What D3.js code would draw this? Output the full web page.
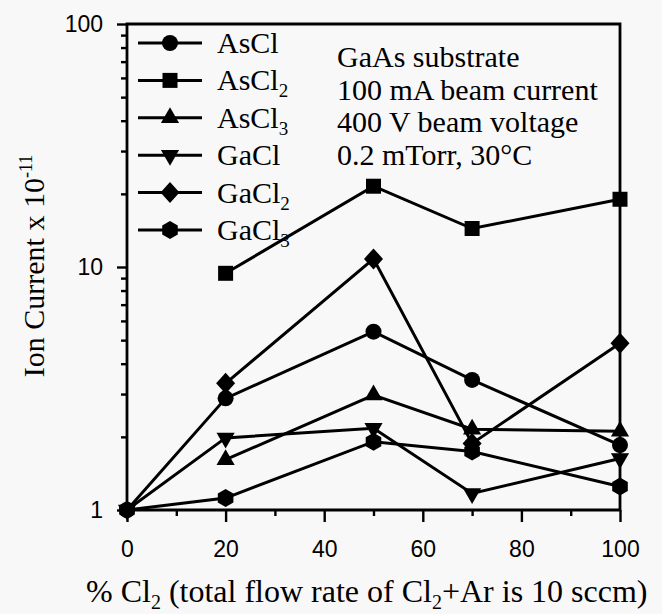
<!DOCTYPE html>
<html>
<head>
<meta charset="utf-8">
<script src="https://cdn.jsdelivr.net/npm/d3@7"></script>
<style>
  body { margin: 0; background: #f8f8f8; }
  svg { display: block; background: #f8f8f8; }
  .serif { font-family: "Liberation Serif", "Times New Roman", serif; }
  .sans { font-family: "Liberation Sans", Arial, sans-serif; }
</style>
</head>
<body>
<svg width="662" height="614"></svg>
<script>

// flow of Cl2 (%)
var flow = [0, 20, 50, 70, 100];

// ion currents (x 1e-11), null = not measured
var AsCl   = [1, 2.88, 5.42, 3.43, 1.85];
var AsCl2  = [null, 9.42, 21.5, 14.4, 19.0];
var AsCl3  = [null, 1.61, 2.97, 2.15, 2.11];
var GaCl   = [1, 1.98, 2.17, 1.17, 1.63];
var GaCl2  = [null, 3.32, 10.8, 1.88, 4.85];
var GaCl3  = [1, 1.12, 1.91, 1.74, 1.25];

var xMajor = [0, 20, 40, 60, 80, 100];
var xMinor = [10, 30, 50, 70, 90];
var yMajor = [1, 10, 100];
var yMinor = [2, 3, 4, 5, 6, 7, 8, 9, 20, 30, 40, 50, 60, 70, 80, 90];

var notes = ['GaAs substrate', '100 mA beam current', '400 V beam voltage', '0.2 mTorr, 30\u00b0C'];

var series = [
    { base: 'AsCl', sub: '',  values: AsCl,  shape: 'circle' },
    { base: 'AsCl', sub: '2', values: AsCl2, shape: 'square' },
    { base: 'AsCl', sub: '3', values: AsCl3, shape: 'triangle' },
    { base: 'GaCl', sub: '',  values: GaCl,  shape: 'triangleDown' },
    { base: 'GaCl', sub: '2', values: GaCl2, shape: 'diamond' },
    { base: 'GaCl', sub: '3', values: GaCl3, shape: 'hexagon' }
];

var svg = d3.select('svg'),
    plotLeft = 127, plotRight = 620, plotTop = 24, plotBottom = 510;

var x = d3.scaleLinear().domain([0, 100]).range([plotLeft, plotRight]);
var y = d3.scaleLog().domain([1, 100]).range([plotBottom, plotTop]);

function markerPath(shape) {
    var p = d3.path();
    if (shape === 'circle') {
        p.arc(0, 0, 8, 0, 2 * Math.PI);
    } else if (shape === 'square') {
        p.rect(-7.5, -7.5, 15, 15);
    } else if (shape === 'triangle' || shape === 'triangleDown') {
        var r = 10.5, s = shape === 'triangle' ? 1 : -1;
        p.moveTo(0, -r * s);
        p.lineTo(r * 0.866, r / 2 * s);
        p.lineTo(-r * 0.866, r / 2 * s);
        p.closePath();
    } else if (shape === 'diamond') {
        p.moveTo(0, -10.5); p.lineTo(9.5, 0); p.lineTo(0, 10.5); p.lineTo(-9.5, 0); p.closePath();
    } else if (shape === 'hexagon') {
        for (var k = 0; k < 6; k++) {
            var a = Math.PI / 6 + k * Math.PI / 3;
            if (k === 0) p.moveTo(9 * Math.cos(a), 9 * Math.sin(a));
            else p.lineTo(9 * Math.cos(a), 9 * Math.sin(a));
        }
        p.closePath();
    }
    return p.toString();
}

// axes: minor and major ticks in their own groups
var xAt = 'translate(0,' + plotBottom + ')',
    yAt = 'translate(' + plotLeft + ',0)';

svg.append('g').attr('transform', xAt)
    .call(d3.axisBottom(x).tickValues(xMinor).tickSize(6).tickFormat(''));
svg.append('g').attr('transform', xAt)
    .call(d3.axisBottom(x).tickValues(xMajor).tickSize(12).tickPadding(19).tickFormat(d3.format('d')));
svg.append('g').attr('transform', yAt)
    .call(d3.axisLeft(y).tickValues(yMinor).tickSize(6).tickFormat(''));
svg.append('g').attr('transform', yAt)
    .call(d3.axisLeft(y).tickValues(yMajor).tickSize(10).tickPadding(14).tickFormat(d3.format('d')));

svg.selectAll('.domain').remove();
svg.selectAll('.tick line').attr('stroke', '#000').attr('stroke-width', 2.4);
svg.selectAll('.tick text').attr('class', 'sans').attr('font-size', 23).attr('fill', '#000');

// frame
svg.append('path')
    .attr('d', 'M' + plotLeft + ',' + plotBottom + 'V' + plotTop + 'H' + plotRight + 'V' + plotBottom + 'H' + plotLeft + 'Z')
    .attr('fill', 'none')
    .attr('stroke', '#000')
    .attr('stroke-width', 2.8);

// data lines and markers
var line = d3.line()
    .defined(function (d) { return d != null; })
    .x(function (d, i) { return x(flow[i]); })
    .y(function (d) { return y(d); });

series.forEach(function (s) {
    svg.append('path')
        .attr('d', line(s.values))
        .attr('fill', 'none')
        .attr('stroke', '#000')
        .attr('stroke-width', 3);
    svg.selectAll(null)
        .data(s.values.map(function (v, i) { return { v: v, f: flow[i] }; }).filter(function (d) { return d.v != null; }))
        .enter().append('path')
        .attr('transform', function (d) { return 'translate(' + x(d.f) + ',' + y(d.v) + ')'; })
        .attr('d', markerPath(s.shape))
        .attr('fill', '#000');
});

// legend
var legend = svg.append('g');
series.forEach(function (s, i) {
    var ly = 43 + i * 37.4;
    legend.append('line')
        .attr('x1', 138).attr('x2', 202)
        .attr('y1', ly).attr('y2', ly)
        .attr('stroke', '#000').attr('stroke-width', 3);
    legend.append('path')
        .attr('transform', 'translate(170,' + ly + ')')
        .attr('d', markerPath(s.shape))
        .attr('fill', '#000');
    var t = legend.append('text')
        .attr('class', 'serif')
        .attr('x', 217).attr('y', ly + 10)
        .attr('font-size', 30);
    t.append('tspan').text(s.base);
    if (s.sub) t.append('tspan').attr('font-size', 19).attr('dy', 7).text(s.sub);
});

// conditions
svg.append('g').selectAll('text')
    .data(notes)
    .enter().append('text')
    .attr('class', 'serif')
    .attr('x', 337)
    .attr('y', function (d, i) { return 67 + i * 32.7; })
    .attr('font-size', 30)
    .text(function (d) { return d; });

// axis titles
var xt = svg.append('text')
    .attr('class', 'serif')
    .attr('x', 86).attr('y', 602)
    .attr('font-size', 32);
xt.append('tspan').text('% Cl');
xt.append('tspan').attr('font-size', 20).attr('dy', 7).text('2');
xt.append('tspan').attr('dy', -7).text(' (total flow rate of Cl');
xt.append('tspan').attr('font-size', 20).attr('dy', 7).text('2');
xt.append('tspan').attr('dy', -7).text('+Ar is 10 sccm)');

var yt = svg.append('text')
    .attr('class', 'serif')
    .attr('transform', 'translate(44,266) rotate(-90)')
    .attr('text-anchor', 'middle')
    .attr('font-size', 30);
yt.append('tspan').text('Ion Current x 10');
yt.append('tspan').attr('font-size', 18).attr('dy', -12).text('-11');

</script>
</body>
</html>
